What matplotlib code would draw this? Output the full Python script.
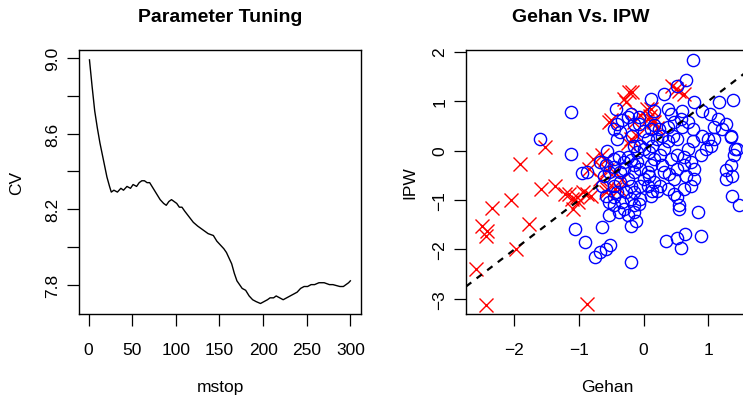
import numpy as np
import matplotlib
matplotlib.use("Agg")
import matplotlib.pyplot as plt

plt.rcParams['font.family'] = ['Liberation Sans', 'DejaVu Sans']

# ---------------- data ----------------
mstop = [1, 4, 7, 10, 13, 17, 21, 24, 26, 29, 33, 37, 40, 44, 48, 51, 55, 58,
         61, 64, 67, 70, 74, 78, 82, 86, 89, 92, 95, 98, 101, 104, 107, 110,
         115, 120, 125, 131, 137, 143, 147, 151, 155, 158, 161, 164, 167, 170,
         173, 176, 180, 184, 188, 192, 197, 201, 205, 208, 212, 215, 219, 223,
         227, 231, 235, 239, 243, 247, 251, 255, 259, 264, 270, 276, 280, 284,
         288, 292, 295, 298, 300]
cv = [8.99, 8.85, 8.72, 8.63, 8.55, 8.46, 8.37, 8.32, 8.29, 8.30, 8.29, 8.31,
      8.30, 8.32, 8.31, 8.33, 8.32, 8.34, 8.35, 8.35, 8.34, 8.34, 8.31, 8.28,
      8.25, 8.23, 8.22, 8.24, 8.25, 8.24, 8.23, 8.21, 8.21, 8.19, 8.16, 8.13,
      8.11, 8.09, 8.07, 8.06, 8.03, 8.01, 7.99, 7.97, 7.94, 7.91, 7.86, 7.82,
      7.80, 7.78, 7.77, 7.74, 7.72, 7.71, 7.70, 7.71, 7.72, 7.73, 7.73, 7.74,
      7.73, 7.72, 7.73, 7.74, 7.75, 7.76, 7.78, 7.79, 7.79, 7.80, 7.80, 7.81,
      7.81, 7.80, 7.80, 7.795, 7.79, 7.79, 7.80, 7.81, 7.82]

# red crosses (Gehan, IPW)
red_gehan = [-2.44, -0.88, -2.59, -1.97, -2.44, -2.50, -2.42, -2.35, -2.05,
             -1.78, -1.92, -1.52, -1.59, -1.38, -1.21, -1.11, -1.01, -0.88,
             -1.09, -0.59, -0.44, -0.85, -0.78, -0.54, -0.28, -0.18, 0.44,
             0.54, 0.62, 0.50, 0.05, 0.10, 0.15, 0.20, -0.05, 0.06, 0.16,
             0.11, -0.20, -0.15, -0.33, -0.38, -0.56, -0.46, -0.67, -0.56,
             -0.51, -0.31, -0.23, -0.94, -0.82, -1.16, -1.03, -0.25, -0.10,
             -0.65, -0.60]
red_ipw = [-3.12, -3.10, -2.39, -1.99, -1.72, -1.52, -1.62, -1.16, -1.01,
           -1.48, -0.27, 0.07, -0.77, -0.71, -0.87, -0.98, -1.04, -0.87,
           -1.18, -0.84, -0.77, -0.37, -0.17, 0.57, 0.98, 1.18, 1.31,
           1.21, 1.14, 1.25, 0.85, 0.70, 0.60, 0.45, 0.71, 0.64, 0.57,
           0.84, 0.24, 0.57, -0.57, -0.77, -0.40, -0.44, -0.57, -0.77,
           0.61, 1.04, 1.18, -0.84, -0.91, -0.88, -0.94, 0.15, 0.30,
           -0.10, -0.20]

# blue circles (Gehan, IPW)
blue_gehan = [0.77, 0.65, 0.51, 0.31, 0.11, 1.17, 1.39, 0.78, -1.13, -0.43,
              -0.20, -0.07, 0.16, 0.37, 0.42, 0.60, 0.91, 1.02, 1.15, 1.27,
              1.09, 1.35, 1.45, 1.40, 1.35, 1.27, 1.37, 1.27, 1.37, 1.47,
              -1.60, -1.13, -0.95, -0.88, -1.06, -0.91, -0.75, -0.68, -0.59,
              -0.52, -0.65, -0.54, -0.19, 0.35, 0.52, 0.64, 0.58, 0.88, 0.84,
              0.54, 0.39, 0.26,
              -0.56, -0.46, -0.38, -0.31, -0.25, -0.20, -0.15, -0.10, -0.31,
              -0.36, -0.46, -0.54, -0.62, -0.64, -0.59, -0.54, -0.46, -0.38,
              -0.31, -0.25, -0.15, -0.07, -0.20, -0.15, -0.05, 0.01, 0.06,
              0.11, 0.16, 0.08, 0.01, -0.05, 0.06, 0.13, 0.21, 0.29, 0.37,
              0.45, 0.52, 0.60, 0.68, 0.76, 0.58, 0.47, 0.37, 0.24, 0.16,
              0.11, -0.46, -0.41, -0.33, -0.25, -0.15, -0.07, 0.01, 0.52,
              0.63, 0.73, 0.63, 0.52, 0.65, 0.78, 0.89, 0.96, 1.04, 0.99,
              0.91, 1.09, 0.68, 0.76, 0.16, 0.26, 0.11, 0.21, 0.37, 0.47,
              0.52, 0.63, 0.73, 0.55, -0.12, -0.20, -0.15, -0.05, 0.08,
              -0.46, -0.36, -0.25, -0.15, -0.05, -0.28, -0.20, -0.67, -0.59,
              -0.41, -0.36, -0.18, -0.10, -0.15, 0.78, 0.47, 0.32, 0.29, 0.42,
              0.32, 0.06, 0.13, -0.46, -0.41, -0.33, 1.22, 1.35, 1.42]
blue_ipw = [1.84, 1.42, 1.31, 1.15, 1.04, 0.98, 1.02, 0.98, 0.77, 0.84,
            0.74, 0.67, 0.81, 0.84, 0.74, 0.81, 0.81, 0.74, 0.64, 0.54,
            0.47, 0.30, 0.03, -0.10, -0.30, -0.40, -0.51, -0.57, -0.91, -1.11,
            0.24, -0.07, -0.45, -0.44, -1.58, -1.85, -2.16, -2.06, -1.99,
            -1.91, -1.54, -1.31, -2.26, -1.82, -1.77, -1.68, -1.97, -1.73, -1.25,
            -1.18, -0.47, -0.10,
            0.00, -0.17, -0.13, -0.24, -0.13, -0.20, -0.30, -0.24, -0.37,
            -0.44, -0.34, -0.44, -0.51, -0.71, -0.91, -1.04, -1.11, -1.25,
            -1.18, -1.31, -1.25, -1.08, -0.98, -0.84, -0.71, -0.57, -0.44,
            -0.30, -0.17, -0.03, 0.03, 0.10, 0.24, 0.10, 0.24, 0.30, 0.20,
            0.30, 0.24, 0.47, 0.57, 0.44, 0.64, 0.57, 0.47, 0.44, 0.51,
            0.44, 0.44, 0.54, 0.61, 0.67, 0.54, 0.54, 0.40, -0.10,
            -0.13, -0.24, -0.30, -0.37, -0.51, -0.57, -0.10, 0.03, 0.10, 0.24,
            0.30, 0.24, 0.03, 0.20, -0.64, -0.71, -0.91, -0.81, -0.77, -0.88,
            -0.94, -0.77, -0.71, -1.11, -1.42, -1.52, -1.11, -0.98, -0.51,
            -0.71, -0.64, -0.57, -0.44, -0.37, -0.84, -0.71, -0.24, -0.30,
            0.24, 0.37, 0.30, -0.03, 0.10, -0.37, -0.57, -0.44, -0.30, -0.17,
            0.03, -0.71, -0.81, -0.94, -0.84, -1.04, 0.44, 0.27, 0.03]

W, H = 743, 402
fig = plt.figure(figsize=(W / 100, H / 100), dpi=100)


def px_box(left, top, right, bottom):
    return [left / W, 1 - bottom / H, (right - left) / W, (bottom - top) / H]


def style_axes(ax):
    for s in ax.spines.values():
        s.set_linewidth(1.0)
    ax.tick_params(axis='both', direction='out', length=8.5, width=0.9,
                   labelsize=12.5)
    ax.tick_params(axis='x', pad=12)
    ax.tick_params(axis='y', pad=5)
    for lab in ax.get_yticklabels():
        lab.set_rotation(90)
        lab.set_va('center')


# ---------------- left: parameter tuning ----------------
ax1 = fig.add_axes(px_box(79, 50.7, 361, 314.7))
ax1.plot(mstop, cv, color='black', lw=1.0)
ax1.set_xlim(-11, 312.2)
ax1.set_ylim(7.646, 9.044)
ax1.set_xticks([0, 50, 100, 150, 200, 250, 300])
yt = [7.8, 8.0, 8.2, 8.4, 8.6, 8.8, 9.0]
ax1.set_yticks(yt)
ax1.set_yticklabels(['7.8', '', '8.2', '', '8.6', '', '9.0'])
style_axes(ax1)

# ---------------- right: Gehan vs IPW ----------------
ax2 = fig.add_axes(px_box(466, 50.7, 748, 314.7))
ax2.plot(red_gehan, red_ipw, linestyle='none', marker='x', ms=10.5,
         mew=1.0, color='red')
ax2.plot(blue_gehan, blue_ipw, linestyle='none', marker='o', ms=8.8,
         mew=1.0, markerfacecolor='none', markeredgecolor='blue')
ax2.axline((0, 0), slope=1, color='black', lw=1.6, linestyle=(0, (3, 3)))
ax2.set_xlim(-2.75, 1.615)
ax2.set_ylim(-3.30, 2.04)
ax2.set_xticks([-2, -1, 0, 1])
ax2.set_xticklabels(['\u22122', '\u22121', '0', '1'])
ax2.set_yticks([-3, -2, -1, 0, 1, 2])
ax2.set_yticklabels(['\u22123', '\u22122', '\u22121', '0', '1', '2'])
style_axes(ax2)

# titles and axis labels
fig.text(220 / W, 1 - 18 / H, 'Parameter Tuning', ha='center', va='center',
         fontsize=14, fontweight='bold')
fig.text(581 / W, 1 - 18 / H, 'Gehan Vs. IPW', ha='center', va='center',
         fontsize=14, fontweight='bold')
fig.text(220 / W, 1 - 388 / H, 'mstop', ha='center', va='center', fontsize=12.5)
fig.text(607 / W, 1 - 388 / H, 'Gehan', ha='center', va='center', fontsize=12.5)
fig.text(17 / W, 1 - 183 / H, 'CV', ha='center', va='center', fontsize=12.5,
         rotation=90)
fig.text(410 / W, 1 - 183 / H, 'IPW', ha='center', va='center', fontsize=12.5,
         rotation=90)

fig.savefig('out.png', dpi=100)
